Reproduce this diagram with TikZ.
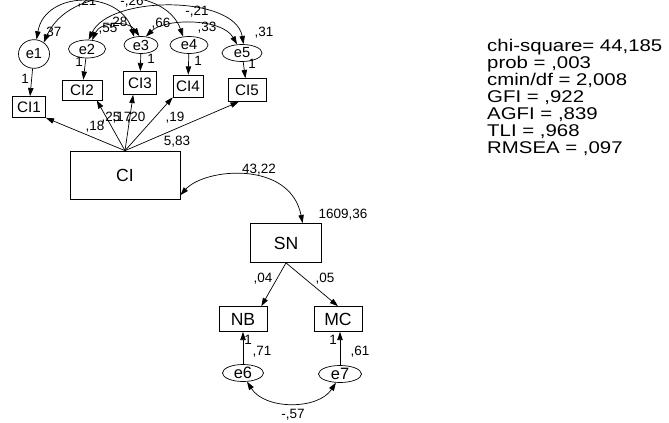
\documentclass[tikz,border=0pt]{standalone}
\usepackage{fontspec}
\setmainfont{Liberation Sans}
\newfontfamily\statfont[FakeStretch=1.2]{Liberation Sans}
\usetikzlibrary{arrows.meta, shapes.geometric}

\begin{document}
\begin{tikzpicture}[
  x=0.03cm, y=-0.03cm,
  obsbox/.style={rectangle, draw, line width=0.6pt, inner sep=0pt, font=\fontsize{13}{13}\selectfont},
  bigbox/.style={rectangle, draw, line width=0.6pt, inner sep=0pt, font=\fontsize{15}{15}\selectfont},
  errvar/.style={ellipse, draw, line width=0.6pt, inner sep=0pt, font=\fontsize{12.5}{12.5}\selectfont},
  num/.style={inner sep=0pt, font=\fontsize{11.5}{11.5}\selectfont},
  load/.style={draw, line width=0.6pt, -{Triangle[length=7pt, width=4.6pt]}},
  corr/.style={draw, line width=0.6pt, {Triangle[length=7pt, width=4.6pt]}-{Triangle[length=7pt, width=4.6pt]}}
]
  \useasboundingbox (0,0) rectangle (669,423);

  % error terms of the CI items
  \node[errvar, minimum width=0.93cm, minimum height=0.86cm] (e1) at (34,54) {e1};
  \node[errvar, minimum width=1.11cm, minimum height=0.54cm] (e2) at (87,49) {e2};
  \node[errvar, minimum width=1.02cm, minimum height=0.51cm] (e3) at (141,45) {e3};
  \node[errvar, minimum width=1.14cm, minimum height=0.51cm] (e4) at (189,45) {e4};
  \node[errvar, minimum width=1.20cm, minimum height=0.51cm] (e5) at (242,53) {e5};

  % CI items
  \node[obsbox, minimum width=0.99cm, minimum height=0.63cm] (CI1) at (29,107) {CI1};
  \node[obsbox, minimum width=1.20cm, minimum height=0.60cm] (CI2) at (82,90)  {CI2};
  \node[obsbox, minimum width=0.99cm, minimum height=0.69cm] (CI3) at (140,83) {CI3};
  \node[obsbox, minimum width=0.90cm, minimum height=0.66cm] (CI4) at (188,86) {CI4};
  \node[obsbox, minimum width=1.14cm, minimum height=0.69cm] (CI5) at (247,90) {CI5};

  \node[bigbox, minimum width=3.3cm, minimum height=1.44cm] (CI) at (125,175) {CI};
  \node[bigbox, minimum width=2.13cm, minimum height=1.17cm] (SN) at (286,243) {SN};
  \node[bigbox, minimum width=1.44cm, minimum height=0.75cm] (NB) at (243,319) {NB};
  \node[bigbox, minimum width=1.44cm, minimum height=0.75cm] (MC) at (338,319) {MC};

  \node[errvar, minimum width=1.23cm, minimum height=0.51cm, font=\fontsize{14}{14}\selectfont] (e6) at (243,373) {e6};
  \node[errvar, minimum width=1.29cm, minimum height=0.51cm, font=\fontsize{14}{14}\selectfont] (e7) at (340,374) {e7};

  % fit indices
  \node[anchor=north west, inner sep=0pt, align=left, font=\statfont\fontsize{14.5}{14.5}\selectfont] (fit) at (487,39)
    {chi-square= 44,185\\prob = ,003\\cmin/df = 2,008\\GFI = ,922\\AGFI = ,839\\TLI = ,968\\RMSEA = ,097};

  % error -> item
  \draw[load] (e1) -- (CI1);
  \draw[load] (e2) -- (CI2);
  \draw[load] (e3) -- (CI3);
  \draw[load] (e4) -- (CI4);
  \draw[load] (e5) -- (CI5);

  % CI -> items
  \draw[load] (CI.north) -- (CI1.south east);
  \draw[load] (CI.north) -- (CI2.-35);
  \draw[load] (CI.north) -- (CI3.-120);
  \draw[load] (CI.north) -- (CI4.south west);
  \draw[load] (CI.north) -- (CI5.-125);

  % covariances of the errors
  \draw[corr] (e1.80) .. controls (45,-10) and (120,-10) .. (e3.130);
  \draw[corr] (e1.50) .. controls (70,-15) and (165,-15) .. (e4.125);
  \draw[corr] (e2.60) .. controls (100,22) and (128,20) .. (e3.100);
  \draw[corr] (e2.80) .. controls (110,-5) and (235,-5) .. (e5.80);
  \draw[corr] (e3.60) .. controls (165,18) and (222,18) .. (e5.120);

  \draw[corr] (CI.-20) .. controls (205,168) and (290,160) .. (SN.50);
  \draw[load] (SN.south) -- (NB.35);
  \draw[load] (SN.south) -- (MC.north);
  \draw[load] (e6.north) -- (e6.north |- NB.south);
  \draw[load] (e7.north) -- (e7.north |- MC.south);
  \draw[corr] (e6.-65) .. controls (265,410) and (318,410) .. (e7.-115);

  % estimates
  \node[num] (l1a) at (25,79)  {1};
  \node[num] (l2a) at (79,62)  {1};
  \node[num] (l3a) at (151,59) {1};
  \node[num] (l4a) at (198,61) {1};
  \node[num] (l5a) at (252,64) {1};
  \node[num] (v1) at (52,33)  {,37};
  \node[num] (c13) at (87,2)  {,21};
  \node[num] (c14) at (132,2) {-,26};
  \node[num] (v2) at (108,29) {,55};
  \node[num] (c23) at (118,23) {,28};
  \node[num] (v3) at (161,24) {,66};
  \node[num] (c25) at (197,12) {-,21};
  \node[num] (v4) at (207,28) {,33};
  \node[num] (v5) at (264,33) {,31};
  \node[num] (r1) at (95,127)  {,18};
  \node[num] (r2) at (111,118) {,25};
  \node[num] (r3) at (122,118) {,17};
  \node[num] (r4) at (136,118) {,20};
  \node[num] (r5) at (175,118) {,19};
  \node[num] (vci) at (177,142) {5,83};
  \node[num] (cci) at (259,170) {43,22};
  \node[num] (vsn) at (343,215) {1609,36};
  \node[num] (bnb) at (263,279) {,04};
  \node[num] (bmc) at (325,279) {,05};
  \node[num] (l6a) at (248,340) {1};
  \node[num] (r6) at (262,352) {,71};
  \node[num] (l7a) at (333,340) {1};
  \node[num] (r7) at (360,352) {,61};
  \node[num] (c67) at (293,415) {-,57};
\end{tikzpicture}
\end{document}
